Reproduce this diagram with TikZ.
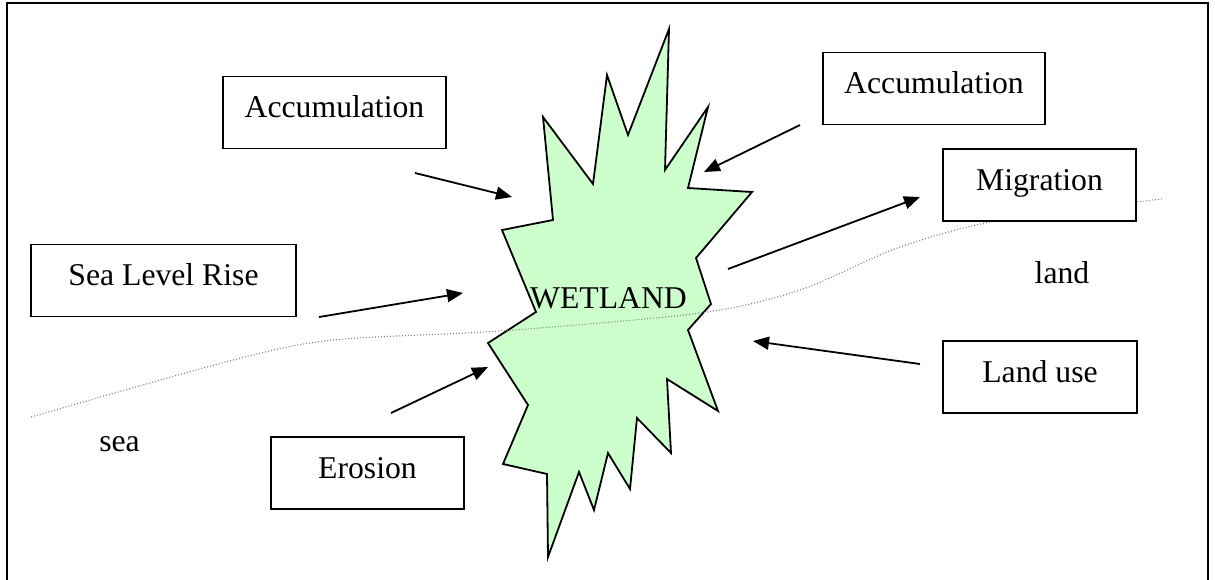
\documentclass[tikz,border=0pt]{standalone}
\usepackage{fontspec}
\setmainfont{Liberation Serif}
\usetikzlibrary{arrows.meta}
\definecolor{wetgreen}{HTML}{CCFFCC}

\begin{document}
\begin{tikzpicture}[x=1pt,y=-1pt,
  every node/.style={font=\fontsize{31.7}{38}\selectfont},
  factor/.style={draw,line width=1.8pt,fill=white,inner sep=0pt,
    text height=41pt,text depth=31pt},
  push/.style={line width=1.8pt,-{Triangle[length=16pt,width=13pt]}}]
  \useasboundingbox (0,0) rectangle (1215,579);
  \clip (0,0) rectangle (1215,579);
  \draw[line width=1.8pt] (7,3) rectangle (1208,600);
  \draw[line width=1.8pt,fill=wetgreen] (543,117) -- (593,184) -- (607,75)
    -- (628,135) -- (669,29) -- (665,170) -- (708,107) -- (688,188)
    -- (752,192) -- (696,258) -- (711,304) -- (688,330) -- (718,411)
    -- (667,379) -- (671,453) -- (637,418) -- (630,489) -- (608,453)
    -- (594,510) -- (579,472) -- (548,557) -- (547,474) -- (503,464)
    -- (528,405) -- (488,343) -- (536,312) -- (502,230) -- (553,220) -- cycle;
  \draw[gray,line width=1.1pt,dash pattern=on 1pt off 2pt] plot[smooth]
    coordinates {(31,417) (233,360) (333,340) (500,331) (700,313)
    (800,290) (900,247) (1000,220) (1162,199)};
  \node[anchor=base] (wetland) at (608.5,308) {WETLAND};
  \node[anchor=base] (sea) at (119.5,451) {sea};
  \node[anchor=base] (land) at (1062,283) {land};
  \node[factor,minimum width=223pt] (accleft) at (334.5,112.5) {Accumulation};
  \node[factor,minimum width=222pt] (accright) at (934,88.5) {Accumulation};
  \node[factor,minimum width=193pt] (migration) at (1039.5,185) {Migration};
  \node[factor,minimum width=265pt] (sealevel) at (163.5,280.5) {Sea Level Rise};
  \node[factor,minimum width=194pt] (landuse) at (1040,377) {Land use};
  \node[factor,minimum width=193pt] (erosion) at (367.5,473) {Erosion};
  \coordinate (accleft-s) at (415,173);
  \coordinate (accleft-t) at (512,197);
  \coordinate (accright-s) at (800,125);
  \coordinate (accright-t) at (704,172);
  \coordinate (migration-s) at (728,269);
  \coordinate (migration-t) at (920,197);
  \coordinate (sealevel-s) at (319,317);
  \coordinate (sealevel-t) at (463,293);
  \coordinate (erosion-s) at (391,413);
  \coordinate (erosion-t) at (488,367);
  \coordinate (landuse-s) at (920,364);
  \coordinate (landuse-t) at (753,341);
  \draw[push] (accleft-s) -- (accleft-t);
  \draw[push] (accright-s) -- (accright-t);
  \draw[push] (migration-s) -- (migration-t);
  \draw[push] (sealevel-s) -- (sealevel-t);
  \draw[push] (erosion-s) -- (erosion-t);
  \draw[push] (landuse-s) -- (landuse-t);
\end{tikzpicture}
\end{document}
